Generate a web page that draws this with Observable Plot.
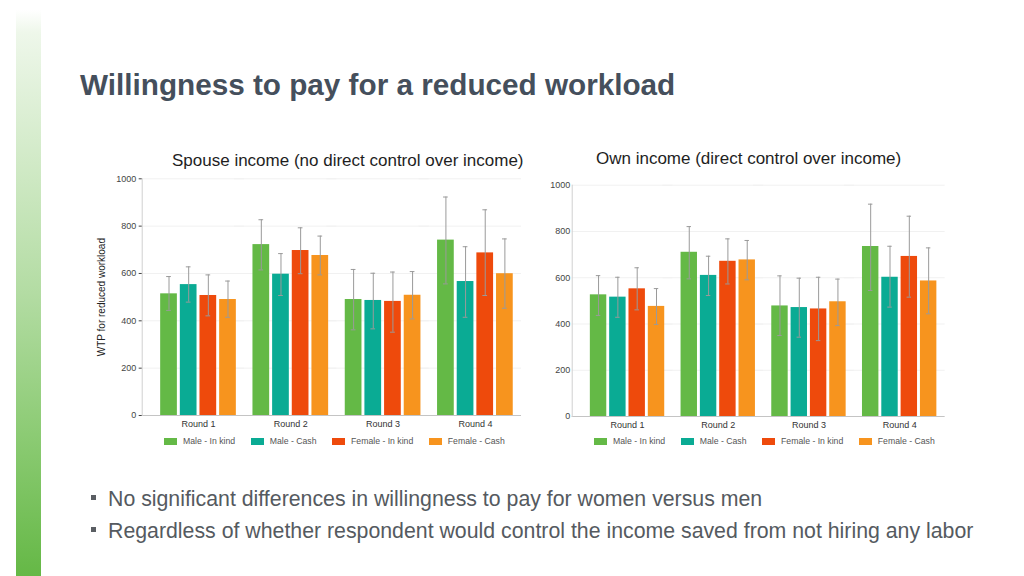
<!DOCTYPE html>
<html>
<head>
<meta charset="utf-8">
<script src="https://cdn.jsdelivr.net/npm/d3@7"></script>
<script src="https://cdn.jsdelivr.net/npm/@observablehq/plot@0.6"></script>
<style>
  body { margin: 0; background: #fff; }
  #page { position: relative; width: 1024px; height: 576px; overflow: hidden; background: #fff;
          font-family: "Liberation Sans", Arial, Helvetica, sans-serif; }
  .stripe { position: absolute; left: 16px; top: 10px; width: 25px; height: 566px;
            background: linear-gradient(to bottom, #ffffff 0%, #eef7ea 4%, #cde8c2 30%, #b3dca3 50%, #8ccb74 75%, #65b846 100%); }
  .title { position: absolute; left: 80px; top: 69.9px; font-size: 29.7px; line-height: 29.7px; font-weight: bold; color: #454f5c; white-space: nowrap; }
  .sub { position: absolute; font-size: 17px; line-height: 17px; color: #1e1e1e; white-space: nowrap; }
  .chart { position: absolute; }
  .chart svg { overflow: visible; }
  .legend { position: absolute; }
  .lg-swatches { font-family: "Liberation Sans", Arial, sans-serif !important; font-size: 8.7px !important; color: #555 !important; min-height: 0 !important; margin: 0 !important; }
  .lg-swatch { margin-right: 15.5px !important; }
  .lg-swatch > svg { margin-right: 6px !important; }
  .bullets { position: absolute; left: 90px; top: 482.6px; color: #555a60; font-size: 21.3px; line-height: 32px; white-space: nowrap; }
  .bullets div { position: relative; padding-left: 18px; height: 32px; }
  .bullets div::before { content: ""; position: absolute; left: 1px; top: 12px; width: 5px; height: 5px; background: #5a5e63; }
</style>
</head>
<body>
<div id="page">
  <div class="stripe"></div>
  <div class="title">Willingness to pay for a reduced workload</div>
  <div class="sub" id="sub1" style="left:172px; top:151.5px;">Spouse income (no direct control over income)</div>
  <div class="sub" id="sub2" style="left:596px; top:150px;">Own income (direct control over income)</div>
  <div class="chart" id="c1" style="left:80px; top:170px;"></div>
  <div class="chart" id="c2" style="left:510px; top:176px;"></div>
  <div class="legend" id="l1" style="left:164px; top:436px;"></div>
  <div class="legend" id="l2" style="left:594px; top:436px;"></div>
  <div class="bullets">
    <div>No significant differences in willingness to pay for women versus men</div>
    <div>Regardless of whether respondent would control the income saved from not hiring any labor</div>
  </div>
</div>
<script>
const rounds = ["Round 1", "Round 2", "Round 3", "Round 4"];
const series = ["Male - In kind", "Male - Cash", "Female - In kind", "Female - Cash"];
const colors = ["#64b946", "#0aab94", "#ee4a0c", "#f7941e"];
const yTicks = [0, 200, 400, 600, 800, 1000];
const gridValues = [200, 400, 600, 800, 1000];

// Spouse income: mean, lower and upper CI (rows = rounds, cols = series)
const spouseMean = [[514, 553, 507, 490], [722, 597, 697, 676], [490, 486, 482, 508], [741, 566, 687, 599]];
const spouseLow  = [[444, 479, 421, 415], [615, 507, 599, 594], [362, 366, 352, 408], [556, 415, 507, 453]];
const spouseHigh = [[587, 628, 594, 568], [827, 684, 793, 758], [617, 601, 606, 608], [923, 713, 869, 746]];

// Own income
const ownMean = [[526, 516, 552, 476], [710, 610, 671, 677], [478, 471, 465, 496], [735, 602, 692, 586]];
const ownLow  = [[437, 429, 461, 398], [595, 523, 573, 591], [350, 343, 328, 393], [545, 473, 516, 444]];
const ownHigh = [[609, 602, 643, 553], [821, 693, 768, 761], [608, 598, 602, 594], [918, 736, 866, 729]];

function rowsOf(mean, low, high) {
  const rows = [];
  rounds.forEach((r, i) => series.forEach((s, j) => {
    rows.push({round: r, series: s, mean: mean[i][j], low: low[i][j], high: high[i][j]});
  }));
  return rows;
}

const FX_INNER = 0.18, FX_OUTER = 0.2;

function chart(rows, {width, marginLeft, marginRight, marginTop, marginBottom, height, yLabel}) {
  // offset of the first facet from the left edge of the frame (outer band padding)
  const step = (width - marginLeft - marginRight) / (rounds.length - FX_INNER + 2 * FX_OUTER);
  const shift = -step * FX_OUTER;
  const marks = [
    Plot.ruleY(gridValues, {stroke: "#f1f1f1", insetLeft: shift, insetRight: -8.3}),
    Plot.barY(rows, {fx: "round", x: "series", y: "mean", fill: "series"}),
    Plot.ruleX(rows, {fx: "round", x: "series", y1: "low", y2: "high", stroke: "#9a9a9a", strokeWidth: 1}),
    Plot.tickY(rows, {fx: "round", x: "series", y: "low", stroke: "#9a9a9a", insetLeft: 6, insetRight: 6}),
    Plot.tickY(rows, {fx: "round", x: "series", y: "high", stroke: "#9a9a9a", insetLeft: 6, insetRight: 6}),
    Plot.ruleY([0], {stroke: "#c4c4c4", insetLeft: shift, insetRight: -8.3}),
    Plot.frame({facet: "super", anchor: "left", stroke: "#d0d0d0", dx: shift}),
    Plot.axisY({ticks: yTicks, dx: shift, tickSize: yLabel ? 3 : 0, tickPadding: yLabel ? 3 : 2, label: null, fontSize: 9, color: "#444", tickFormat: d => String(d)}),
    Plot.axisFx({anchor: "bottom", label: null, tickSize: 0, tickPadding: 5, fontSize: 9, color: "#333"})
  ];
  if (yLabel) {
    marks.push(Plot.axisY({ticks: [], tickSize: 0, label: yLabel, labelArrow: "none", labelAnchor: "center", labelOffset: 63, fontSize: 10, color: "#222"}));
  }
  return Plot.plot({
    width, height, marginLeft, marginRight, marginTop, marginBottom,
    style: {fontFamily: "Liberation Sans, Arial, sans-serif", background: "transparent", overflow: "visible"},
    fx: {domain: rounds, paddingInner: FX_INNER, paddingOuter: FX_OUTER, round: false, label: null},
    x: {domain: series, axis: null, paddingInner: 0.15, paddingOuter: 0, round: false},
    y: {domain: [0, 1000], label: null},
    color: {domain: series, range: colors},
    marks
  });
}

function legend() {
  return Plot.legend({
    color: {domain: series, range: colors},
    legend: "swatches",
    swatchWidth: 13, swatchHeight: 7,
    className: "lg"
  });
}

document.getElementById("c1").appendChild(chart(rowsOf(spouseMean, spouseLow, spouseHigh), {
  width: 460, height: 262, marginLeft: 61.7, marginRight: 8.8, marginTop: 8.3, marginBottom: 17, yLabel: "WTP for reduced workload"
}));
document.getElementById("c2").appendChild(chart(rowsOf(ownMean, ownLow, ownHigh), {
  width: 455, height: 262, marginLeft: 61.7, marginRight: 10.5, marginTop: 8.7, marginBottom: 22
}));
document.getElementById("l1").appendChild(legend());
document.getElementById("l2").appendChild(legend());
</script>
</body>
</html>
